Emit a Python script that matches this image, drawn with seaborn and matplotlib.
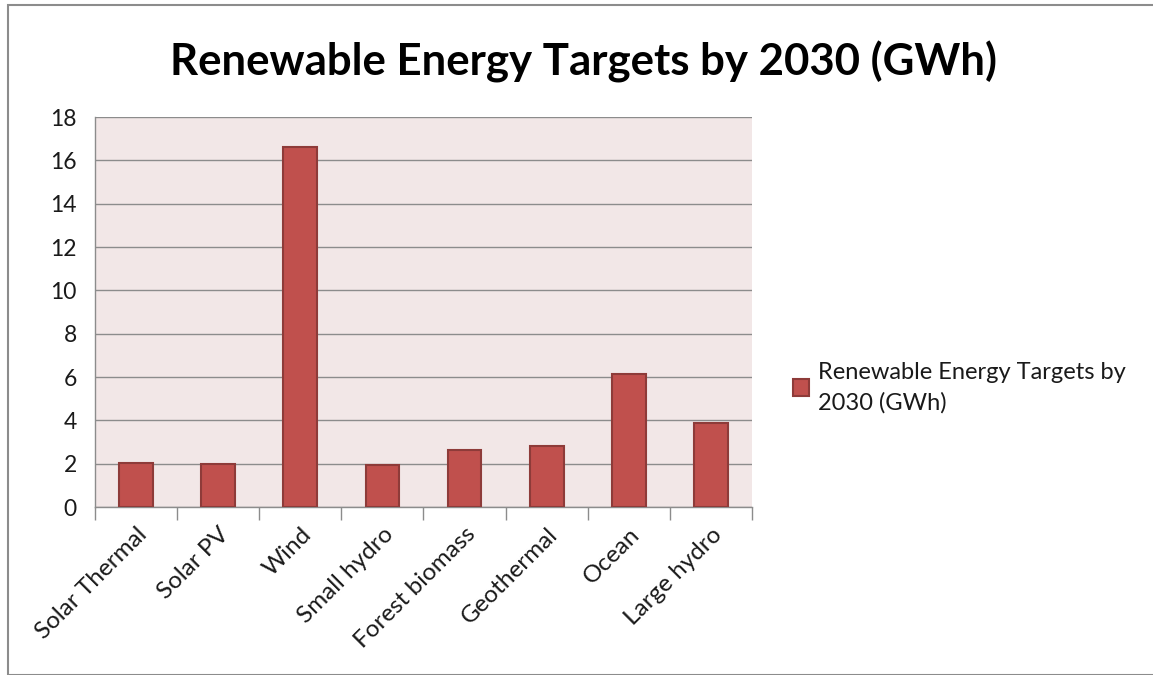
import numpy as np
import pandas as pd
import matplotlib
matplotlib.use("Agg")
import matplotlib.pyplot as plt
import seaborn as sns
from matplotlib.patches import Rectangle

categories = ["Solar Thermal", "Solar PV", "Wind", "Small hydro", "Forest biomass",
              "Geothermal", "Ocean", "Large hydro"]
values = [2.05, 1.97, 16.6, 1.92, 2.63, 2.81, 6.15, 3.86]
series_name = "Renewable Energy Targets by 2030 (GWh)"
y_ticks = [0, 2, 4, 6, 8, 10, 12, 14, 16, 18]

sns.set_theme(style="white")
plt.rcParams['font.family'] = ['Lato', 'DejaVu Sans']

df = pd.DataFrame({"Category": categories, "Value": values})

fig = plt.figure(figsize=(11.53, 6.75), dpi=100)
ax = fig.add_axes([95/1153, 1-507/675, (752-95)/1153, (507-117)/675])
ax.set_facecolor("#F2E7E7")

sns.barplot(data=df, x="Category", y="Value", ax=ax, color="#C0504D",
            width=0.41, saturation=1, edgecolor="#8E3B39", linewidth=1.5,
            label=series_name, zorder=3, legend=False)
if ax.get_legend() is not None:
    ax.get_legend().remove()

ax.set_ylim(0, 18)
ax.set_xlim(-0.5, len(categories) - 0.5)
ax.set_yticks(y_ticks)
ax.yaxis.grid(True, color="#8C8C8C", linewidth=1.0, zorder=0)
ax.set_axisbelow(True)
for s in ["top", "right"]:
    ax.spines[s].set_visible(False)
for s in ["left", "bottom"]:
    ax.spines[s].set_color("#8C8C8C")
    ax.spines[s].set_linewidth(1.0)

ax.set_xlabel("")
ax.set_ylabel("")
ax.set_xticks(range(len(categories)))
ax.set_xticklabels(categories, rotation=45, ha="right", rotation_mode="anchor",
                   fontsize=17.5, color="#1A1A1A")
ax.tick_params(axis="x", which="major", length=0, pad=12)
ax.set_xticks(np.arange(-0.5, len(categories), 1.0), minor=True)
ax.tick_params(axis="x", which="minor", length=9, color="#8C8C8C", width=1, direction="out")
ax.tick_params(axis="y", which="major", length=6, color="#8C8C8C", width=1, direction="out",
               labelsize=16.5, labelcolor="#1A1A1A", pad=7)
ax.tick_params(axis="x", which="both", bottom=True)

fig.text(583/1153, 1-62/675, series_name, ha="center", va="center",
         fontsize=31.5, fontweight="bold", color="black")

handles, labels = ax.get_legend_handles_labels()
leg = fig.legend(handles[:1], ["Renewable Energy Targets by\n2030 (GWh)"],
                 loc="upper left", bbox_to_anchor=(781/1153, 1-350/675),
                 frameon=False, fontsize=17, handlelength=0.7, handleheight=0.7,
                 handletextpad=0.35, borderpad=0, labelspacing=0)
for t in leg.get_texts():
    t.set_color("#1A1A1A")
    t.set_linespacing(1.5)

fig.add_artist(Rectangle((8/1153, 0), 1.0, 1-5/675, transform=fig.transFigure,
                         fill=False, edgecolor="#8C8C8C", linewidth=1.5))

fig.savefig("out.png", dpi=100)
